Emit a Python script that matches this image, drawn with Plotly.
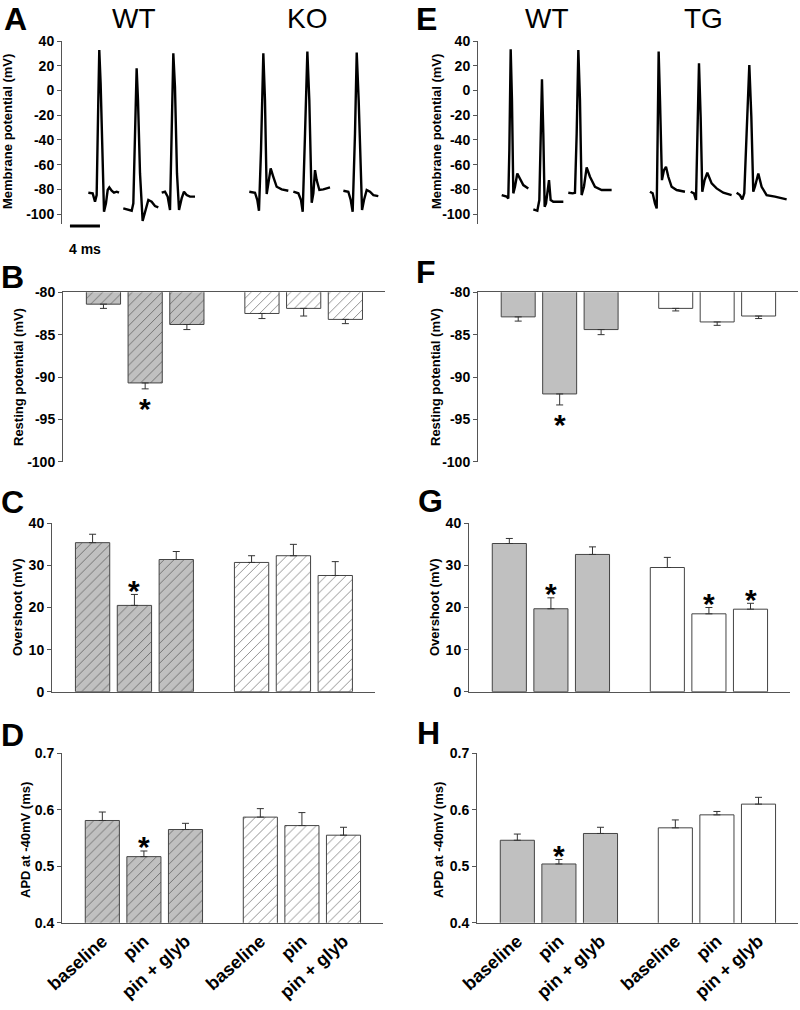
import plotly.graph_objects as go

W, H = 800, 1010
def px(p): return p / W
def py(p): return 1 - p / H

FONT = "Liberation Sans, Arial, sans-serif"
AXC = "#555555"

# ---------------- action potential traces (time ms, mV) ----------------
wt_a1_t = [3.78,4.36,4.67,4.89,5.11,5.24,5.42,5.69,5.87,6.13,6.36,6.58,6.89,7.2,7.56,7.87]
wt_a1_v = [-82.7,-83.2,-90.0,-84.6,-7.7,32.7,5.7,-61.7,-98.1,-91.3,-80.5,-78.4,-81.1,-82.7,-81.9,-82.7]
wt_a2_t = [8.44,9.11,9.56,9.78,10.0,10.22,10.4,10.67,11.02,11.33,11.78,12.22,12.67,13.11]
wt_a2_v = [-95.4,-96.2,-97.3,-91.3,-34.7,17.9,-7.7,-67.1,-105.5,-99.4,-88.6,-90.0,-93.5,-94.6]
wt_a3_t = [13.56,14.0,14.36,14.67,14.84,15.11,15.33,15.6,15.87,16.22,16.53,16.89,17.33,18.0]
wt_a3_v = [-82.7,-81.9,-85.9,-96.7,-48.2,30.0,3.0,-67.1,-96.7,-87.3,-81.9,-84.6,-85.9,-85.9]
ko_1_t = [25.24,26.0,26.31,26.53,26.8,27.11,27.33,27.56,27.78,28.09,28.44,28.89,29.56,30.44]
ko_1_v = [-81.9,-82.7,-88.6,-97.3,-48.2,30.0,-7.7,-83.8,-75.2,-63.0,-69.8,-77.9,-80.0,-81.1]
ko_2_t = [31.11,31.78,32.13,32.36,32.67,32.98,33.24,33.56,33.78,34.0,34.22,34.58,35.11,36.0]
ko_2_v = [-81.9,-83.2,-88.6,-98.1,-34.7,31.4,-7.7,-90.8,-83.2,-64.4,-72.5,-80.5,-80.0,-78.4]
ko_3_t = [37.78,38.44,38.76,39.02,39.33,39.56,39.82,40.09,40.27,40.53,40.89,41.33,41.78,42.44]
ko_3_v = [-81.1,-81.9,-88.6,-98.1,-34.7,30.6,-7.7,-67.1,-96.7,-88.6,-80.5,-81.9,-84.6,-85.4]

wt_e1_t = [3.29,3.95,4.17,4.31,4.49,4.66,4.84,5.06,5.37,5.73,6.17,6.84]
wt_e1_v = [-84.6,-85.9,-87.3,-48.2,33.3,-7.7,-83.2,-77.9,-67.1,-71.1,-76.5,-79.2]
wt_e2_t = [7.51,8.04,8.31,8.49,8.66,8.84,9.02,9.2,9.42,9.6,9.82,10.18,10.84,11.51]
wt_e2_v = [-96.2,-97.3,-88.6,-34.7,9.0,-34.7,-94.0,-91.3,-77.9,-72.5,-88.6,-90.0,-90.0,-90.0]
wt_e3_t = [12.17,12.75,13.06,13.29,13.51,13.73,13.95,14.26,14.62,15.06,15.73,16.62,17.95]
wt_e3_v = [-82.7,-83.2,-82.7,-34.7,32.7,-7.7,-84.6,-77.9,-62.2,-69.8,-77.9,-80.5,-80.5]
tg_1_t = [23.06,23.42,23.73,23.96,24.09,24.22,24.4,24.66,24.93,25.2,25.51,25.95,26.62,27.73]
tg_1_v = [-81.9,-83.2,-91.3,-95.4,-34.7,31.4,-7.7,-72.5,-64.4,-61.7,-69.8,-77.9,-80.5,-81.9]
tg_2_t = [28.49,28.93,29.2,29.38,29.6,29.82,30.04,30.35,30.71,31.29,31.95,32.84,33.95]
tg_2_v = [-81.9,-83.2,-88.6,-48.2,21.9,-21.2,-81.9,-72.5,-66.5,-75.2,-79.2,-82.7,-84.6]
tg_3_t = [34.62,35.06,35.38,35.64,35.95,36.31,36.58,36.84,37.06,37.51,37.95,38.62,39.73,41.29]
tg_3_v = [-82.7,-84.6,-88.1,-83.2,-34.7,20.6,-21.2,-81.9,-77.9,-67.1,-77.9,-84.6,-85.9,-88.1]

trace_ticks = [-100, -80, -60, -40, -20, 0, 20, 40]
trace_ticktext = ["-100", "-80", "-60", "-40", "-20", "0", "20", "40"]

# ---------------- bar data ----------------
conditions = ["baseline", "pin", "pin + glyb"]
positions = [0, 1, 2, 3.8, 4.8, 5.8]

rest_ko_mean = [-81.4, -90.7, -83.8, -82.5, -81.9, -83.2]
rest_ko_err = [0.5, 0.7, 0.6, 0.6, 0.9, 0.5]
over_ko_mean = [35.4, 20.5, 31.4, 30.7, 32.3, 27.6]
over_ko_err = [2.0, 2.6, 1.9, 1.6, 2.7, 3.3]
apd_ko_mean = [0.581, 0.517, 0.565, 0.587, 0.572, 0.555]
apd_ko_err = [0.015, 0.010, 0.011, 0.015, 0.023, 0.014]

rest_tg_mean = [-82.9, -92.0, -84.4, -81.9, -83.5, -82.8]
rest_tg_err = [0.5, 1.3, 0.6, 0.3, 0.4, 0.3]
over_tg_mean = [35.2, 19.7, 32.6, 29.5, 18.5, 19.6]
over_tg_err = [1.2, 2.6, 1.8, 2.4, 1.5, 1.4]
apd_tg_mean = [0.546, 0.504, 0.558, 0.568, 0.591, 0.610]
apd_tg_err = [0.011, 0.008, 0.011, 0.014, 0.006, 0.012]

sig_B = [1]; sig_C = [1]; sig_D = [1]
sig_F = [1]; sig_G = [1, 4, 5]; sig_H = [1]

rest_ticks = [-100, -95, -90, -85, -80]
rest_ticktext = ["-100", "-95", "-90", "-85", "-80"]
over_ticks = [0, 10, 20, 30, 40]
apd_ticks = [0.4, 0.5, 0.6, 0.7]

fig = go.Figure()
annotations = []
shapes = []

tickfont = dict(family=FONT, size=14, color="black")
boldt = lambda s: "<b>" + s + "</b>"

# ---------------- trace panels ----------------
def trace_panel(n, xdom, ydom, xr, traces):
    for t, v in traces:
        fig.add_trace(go.Scatter(x=t, y=v, mode="lines", xaxis="x%d" % n, yaxis="y%d" % n,
                                 line=dict(color="black", width=2.4), showlegend=False,
                                 hoverinfo="skip"))
    fig.layout["xaxis%d" % n] = dict(domain=xdom, range=xr, anchor="y%d" % n, visible=False,
                                     automargin=False)
    fig.layout["yaxis%d" % n] = dict(domain=ydom, range=[-108, 40], anchor="x%d" % n,
                                     showline=True, linecolor=AXC, linewidth=1,
                                     ticks="outside", ticklen=4, tickcolor=AXC,
                                     tickvals=trace_ticks, ticktext=[boldt(s) for s in trace_ticktext],
                                     tickfont=tickfont, showgrid=False, zeroline=False,
                                     automargin=False)

trace_panel(1, [px(62), px(385)], [py(224), py(41)], [0.27, 43.33],
            [(wt_a1_t, wt_a1_v), (wt_a2_t, wt_a2_v), (wt_a3_t, wt_a3_v),
             (ko_1_t, ko_1_v), (ko_2_t, ko_2_v), (ko_3_t, ko_3_v)])
trace_panel(2, [px(478), px(800)], [py(224), py(41)], [0.13, 43.07],
            [(wt_e1_t, wt_e1_v), (wt_e2_t, wt_e2_v), (wt_e3_t, wt_e3_v),
             (tg_1_t, tg_1_v), (tg_2_t, tg_2_v), (tg_3_t, tg_3_v)])

# scale bar 4 ms
shapes.append(dict(type="line", xref="x1", yref="paper", x0=1.33, x1=1.33 + 4,
                   y0=py(226), y1=py(226), line=dict(color="black", width=3)))
annotations.append(dict(x=1.33 + 2, y=py(239), xref="x1", yref="paper", text="<b>4 ms</b>",
                        showarrow=False, font=dict(family=FONT, size=14, color="black")))

# ---------------- bar panels ----------------
def bar_panel(n, xdom, ydom, yr, ticks, ticktext, means, errs, hatch, neg, sig, labels):
    colors = ["#c0c0c0", "#ffffff"]
    for g in range(2):
        idx = slice(3 * g, 3 * g + 3)
        m = means[idx]; e = errs[idx]
        if neg:
            err = dict(type="data", symmetric=False, array=[0, 0, 0], arrayminus=e,
                       color="#333333", thickness=1, width=3.5)
        else:
            err = dict(type="data", symmetric=False, array=e, arrayminus=[0, 0, 0],
                       color="#333333", thickness=1, width=3.5)
        marker = dict(color=colors[g], line=dict(color="#444444", width=1))
        if hatch:
            marker["pattern"] = dict(shape="/", fgcolor="#222222", bgcolor=colors[g],
                                     size=7, solidity=0.14)
        fig.add_trace(go.Bar(x=positions[idx], y=m, width=0.82, error_y=err, marker=marker,
                             xaxis="x%d" % n, yaxis="y%d" % n, showlegend=False,
                             hoverinfo="skip"))
    xa = dict(domain=xdom, range=[-0.97, 6.75], anchor="y%d" % n, showline=True,
              linecolor=AXC, linewidth=1, showgrid=False, zeroline=False, ticks="",
              automargin=False)
    if neg:
        xa["side"] = "top"
    if labels:
        xa.update(tickvals=positions, ticktext=[boldt(c) for c in conditions * 2],
                  tickangle=-42, tickfont=dict(family=FONT, size=18, color="black"))
    else:
        xa["showticklabels"] = False
    fig.layout["xaxis%d" % n] = xa
    fig.layout["yaxis%d" % n] = dict(domain=ydom, range=yr, anchor="x%d" % n,
                                     showline=True, linecolor=AXC, linewidth=1,
                                     ticks="outside", ticklen=4, tickcolor=AXC,
                                     tickvals=ticks, ticktext=[boldt(s) for s in ticktext],
                                     tickfont=tickfont, showgrid=False, zeroline=False,
                                     automargin=False)
    for i in sig:
        if neg:
            annotations.append(dict(x=positions[i], y=means[i] - errs[i], xref="x%d" % n,
                                    yref="y%d" % n, text="<b>*</b>", showarrow=False,
                                    yanchor="middle", yshift=-20,
                                    font=dict(family=FONT, size=30, color="black")))
        else:
            annotations.append(dict(x=positions[i], y=means[i] + errs[i], xref="x%d" % n,
                                    yref="y%d" % n, text="<b>*</b>", showarrow=False,
                                    yanchor="middle", yshift=4,
                                    font=dict(family=FONT, size=30, color="black")))

bar_panel(3, [px(63), px(385)], [py(461.7), py(292.3)], [-100, -80], rest_ticks, rest_ticktext,
          rest_ko_mean, rest_ko_err, True, True, sig_B, False)
bar_panel(4, [px(52), px(375)], [py(691.7), py(523.3)], [0, 40], over_ticks,
          [str(v) for v in over_ticks], over_ko_mean, over_ko_err, True, False, sig_C, False)
bar_panel(5, [px(62), px(383)], [py(922.7), py(753.3)], [0.4, 0.7], apd_ticks,
          ["%.1f" % v for v in apd_ticks], apd_ko_mean, apd_ko_err, True, False, sig_D, True)
bar_panel(6, [px(478), px(798)], [py(461.7), py(292.3)], [-100, -80], rest_ticks, rest_ticktext,
          rest_tg_mean, rest_tg_err, False, True, sig_F, False)
bar_panel(7, [px(469), px(790)], [py(691.7), py(523.3)], [0, 40], over_ticks,
          [str(v) for v in over_ticks], over_tg_mean, over_tg_err, False, False, sig_G, False)
bar_panel(8, [px(477), px(798)], [py(922.7), py(753.3)], [0.4, 0.7], apd_ticks,
          ["%.1f" % v for v in apd_ticks], apd_tg_mean, apd_tg_err, False, False, sig_H, True)

# ---------------- texts ----------------
def text(x, y, s, size, bold=True, angle=0):
    annotations.append(dict(x=px(x), y=py(y), xref="paper", yref="paper",
                            text=boldt(s) if bold else s, showarrow=False, textangle=angle,
                            xanchor="center", yanchor="middle",
                            font=dict(family=FONT, size=size, color="black")))

for lt, x, y in [("A", 15, 19), ("B", 12, 277), ("C", 12, 502), ("D", 12, 735),
                 ("E", 427, 19), ("F", 426, 272), ("G", 430, 501), ("H", 428, 733)]:
    text(x, y, lt, 32)

text(134, 18, "WT", 28, bold=False)
text(307, 18, "KO", 28, bold=False)
text(547, 18, "WT", 28, bold=False)
text(703, 18, "TG", 28, bold=False)

text(7, 132, "Membrane potential (mV)", 13, angle=-90)
text(436, 132, "Membrane potential (mV)", 13, angle=-90)
text(18, 377, "Resting potential (mV)", 13, angle=-90)
text(435, 377, "Resting potential (mV)", 13, angle=-90)
text(17, 607, "Overshoot (mV)", 13, angle=-90)
text(434, 607, "Overshoot (mV)", 13, angle=-90)
text(25, 840, "APD at -40mV (ms)", 13, angle=-90)
text(438, 840, "APD at -40mV (ms)", 13, angle=-90)

fig.update_layout(width=W, height=H, margin=dict(l=0, r=0, t=0, b=0, autoexpand=False),
                  plot_bgcolor="white", paper_bgcolor="white", barmode="overlay",
                  annotations=annotations, shapes=shapes,
                  font=dict(family=FONT, color="black"))

fig.write_html("out.html", config={"displayModeBar": False},
               post_script="document.body.style.margin='0';")
